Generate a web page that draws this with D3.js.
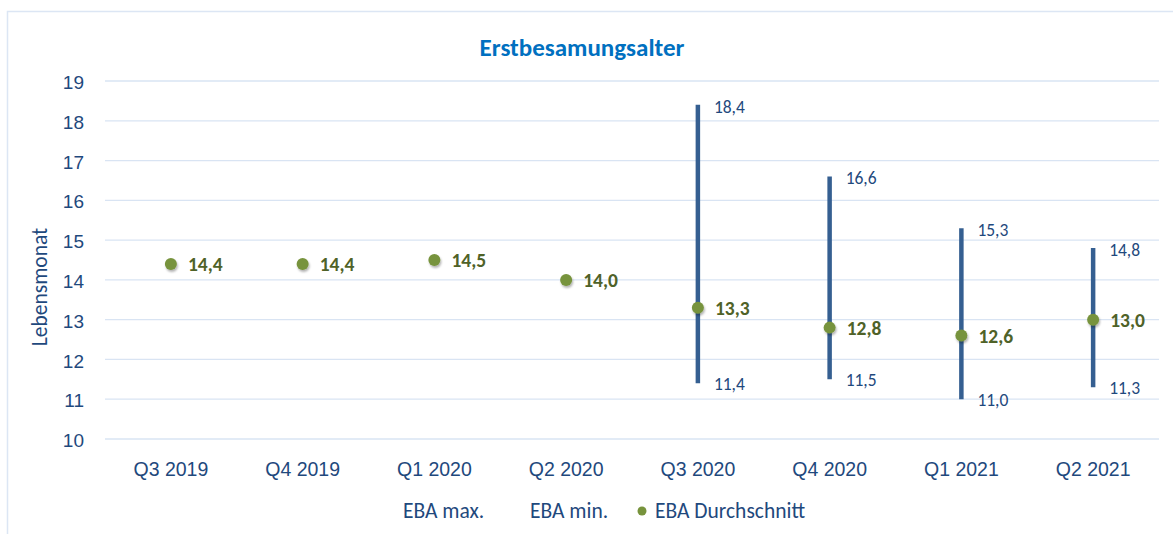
<!DOCTYPE html>
<html>
<head>
<meta charset="utf-8">
<script src="https://cdn.jsdelivr.net/npm/d3@7"></script>
<style>
  body { margin: 0; background: #fff; }
  svg { display: block; font-family: Carlito, Calibri, Lato, "Open Sans", sans-serif; }
</style>
</head>
<body>
<svg id="chart" width="1173" height="534"></svg>
<script>
// data
const quarters = ['Q3 2019', 'Q4 2019', 'Q1 2020', 'Q2 2020', 'Q3 2020', 'Q4 2020', 'Q1 2021', 'Q2 2021'];
const ebaMax = [null, null, null, null, 18.4, 16.6, 15.3, 14.8];
const ebaMin = [null, null, null, null, 11.4, 11.5, 11.0, 11.3];
const ebaAvg = [14.4, 14.4, 14.5, 14.0, 13.3, 12.8, 12.6, 13.0];
const yTicks = [10, 11, 12, 13, 14, 15, 16, 17, 18, 19];

const width = 1173, height = 534;
const margin = { left: 105, right: 14, top: 81, bottom: 95 };

const svg = d3.select('#chart');
const fmt = v => d3.format('.1f')(v).replace('.', ',');

// outer frame
svg.append('rect')
  .attr('x', 7.5).attr('y', 11.5)
  .attr('width', width + 10).attr('height', height)
  .attr('fill', 'none')
  .attr('stroke', '#dce6f4').attr('stroke-width', 1.5);

const x = d3.scaleBand()
  .domain(quarters)
  .range([margin.left, width - margin.right]);

const y = d3.scaleLinear()
  .domain([10, 19])
  .range([height - margin.bottom, margin.top]);

// grid
svg.append('g')
  .selectAll('line')
  .data(yTicks)
  .join('line')
  .attr('x1', margin.left).attr('x2', width - margin.right)
  .attr('y1', d => y(d)).attr('y2', d => y(d))
  .attr('stroke', '#d9e4f3').attr('stroke-width', 1.3);

// y axis labels
const yAxis = svg.append('g')
  .attr('transform', `translate(${margin.left - 21},0)`)
  .call(d3.axisLeft(y).tickValues(yTicks).tickSize(0).tickPadding(0));
yAxis.select('.domain').remove();
yAxis.selectAll('text')
  .attr('fill', '#1f497d')
  .attr('font-size', 19)
  .attr('dy', '0.4em');

// x axis labels
const xAxis = svg.append('g')
  .attr('transform', `translate(0,${y(10)})`)
  .call(d3.axisBottom(x).tickSize(0).tickPadding(0));
xAxis.select('.domain').remove();
xAxis.selectAll('text')
  .attr('fill', '#1f497d')
  .attr('font-size', 19.5)
  .attr('y', 37)
  .attr('dy', null);

// title
svg.append('text')
  .attr('x', 582).attr('y', 56)
  .attr('text-anchor', 'middle')
  .attr('font-size', 25).attr('font-weight', 'bold')
  .attr('fill', '#0070c0')
  .text('Erstbesamungsalter');

// y axis title
svg.append('text')
  .attr('transform', `translate(47,287) rotate(-90)`)
  .attr('text-anchor', 'middle')
  .attr('font-size', 21.5)
  .attr('fill', '#1f497d')
  .text('Lebensmonat');

const rows = quarters.map((q, i) => ({ q, max: ebaMax[i], min: ebaMin[i], avg: ebaAvg[i] }));
const cx = d => x(d.q) + x.bandwidth() / 2;

const defs = svg.append('defs');
defs.append('filter').attr('id', 'shadow')
  .attr('x', '-50%').attr('y', '-50%').attr('width', '200%').attr('height', '200%')
  .append('feDropShadow')
  .attr('dx', 1).attr('dy', 2).attr('stdDeviation', 1.3)
  .attr('flood-color', '#000').attr('flood-opacity', 0.3);

// range bars
const ranged = rows.filter(d => d.max != null && d.min != null);
svg.append('g')
  .selectAll('line')
  .data(ranged)
  .join('line')
  .attr('x1', cx).attr('x2', cx)
  .attr('y1', d => y(d.max)).attr('y2', d => y(d.min))
  .attr('stroke', '#355f91').attr('stroke-width', 4.5);

svg.append('g')
  .selectAll('text')
  .data(ranged)
  .join('text')
  .attr('x', d => cx(d) + 16)
  .attr('y', d => y(d.max) + 8)
  .attr('font-size', 17.5)
  .attr('fill', '#1f497d')
  .text(d => fmt(d.max));

svg.append('g')
  .selectAll('text')
  .data(ranged)
  .join('text')
  .attr('x', d => cx(d) + 16)
  .attr('y', d => y(d.min) + 7)
  .attr('font-size', 17.5)
  .attr('fill', '#1f497d')
  .text(d => fmt(d.min));

// averages
svg.append('g')
  .selectAll('circle')
  .data(rows)
  .join('circle')
  .attr('cx', cx).attr('cy', d => y(d.avg))
  .attr('r', 6)
  .attr('fill', '#77933c')
  .attr('filter', 'url(#shadow)');

svg.append('g')
  .selectAll('text')
  .data(rows)
  .join('text')
  .attr('x', d => cx(d) + 17)
  .attr('y', d => y(d.avg) + 7)
  .attr('font-size', 19.5).attr('font-weight', 'bold')
  .attr('fill', '#4f6228')
  .text(d => fmt(d.avg));

// legend
const legend = svg.append('g').attr('font-size', 21.5).attr('fill', '#1f497d');
legend.append('text').attr('x', 403).attr('y', 518).text('EBA max.');
legend.append('text').attr('x', 530).attr('y', 518).text('EBA min.');
legend.append('circle').attr('cx', 642).attr('cy', 511).attr('r', 4.5).attr('fill', '#77933c');
legend.append('text').attr('x', 655).attr('y', 518).text('EBA Durchschnitt');
</script>
</body>
</html>
